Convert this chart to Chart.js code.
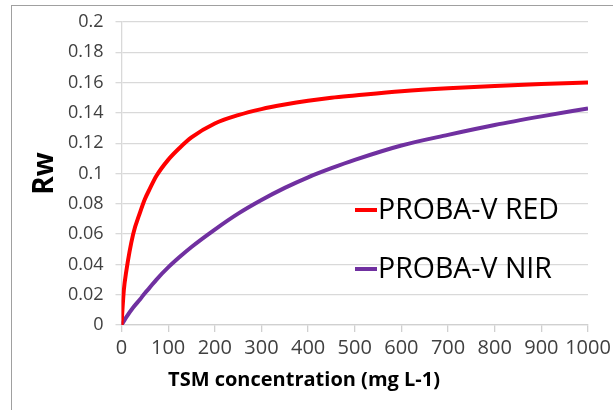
<!DOCTYPE html>
<html>
<head>
<meta charset="utf-8">
<script src="https://cdn.jsdelivr.net/npm/chart.js@4.4.1/dist/chart.umd.min.js"></script>
<style>
  html, body { margin: 0; padding: 0; background: #fff; }
  #wrap { position: relative; width: 613px; height: 410px; overflow: hidden; }
  #frame { position: absolute; left: 11px; top: 5px; width: 700px; height: 500px;
           border-left: 1px solid #a0a0a0; border-top: 1px solid #a0a0a0; }
  canvas { position: absolute; left: 0; top: 0; }
</style>
</head>
<body>
<div id="wrap">
  <div id="frame"></div>
  <canvas id="c" width="613" height="410"></canvas>
</div>
<script>
const tsm = [0, 2, 5, 10, 25, 40, 50, 60, 75, 100, 125, 150, 200, 250, 300, 350, 400, 450, 500, 600, 700, 800, 900, 1000];
const redValues = [0, 0.010, 0.023, 0.035, 0.060, 0.0745, 0.083, 0.0895, 0.0985, 0.109, 0.117, 0.1238, 0.133, 0.1385, 0.1425, 0.1455, 0.148, 0.150, 0.1515, 0.1543, 0.1563, 0.1578, 0.159, 0.160];
const nirValues = [0, 0.001, 0.0025, 0.005, 0.0115, 0.017, 0.021, 0.0245, 0.030, 0.038, 0.045, 0.0515, 0.063, 0.0735, 0.0825, 0.0905, 0.0975, 0.1035, 0.109, 0.1185, 0.1255, 0.132, 0.1377, 0.143];
const xTickValues = [0, 100, 200, 300, 400, 500, 600, 700, 800, 900, 1000];
const seriesNames = ['PROBA-V RED', 'PROBA-V NIR'];
const seriesColors = ['#ff0000', '#7030a0'];
const xTitle = 'TSM concentration (mg L-1)';
const yTitle = 'Rw';

const toPoints = (vals) => tsm.map((x, i) => ({ x: x, y: vals[i] }));

const overlay = {
  id: 'overlay',
  afterDraw(chart) {
    const ctx = chart.ctx;
    ctx.save();
    ctx.font = 'bold 20px "Open Sans"';
    ctx.fillStyle = '#000';
    ctx.textAlign = 'center';
    ctx.textBaseline = 'middle';
    ctx.fillText(xTitle, 304, 380);
    const rows = [210, 269];
    ctx.font = '28.5px "Open Sans"';
    ctx.textAlign = 'left';
    rows.forEach((y, i) => {
      ctx.strokeStyle = seriesColors[i];
      ctx.lineWidth = 4;
      ctx.beginPath();
      ctx.moveTo(355, y);
      ctx.lineTo(377, y);
      ctx.stroke();
      ctx.fillStyle = '#000';
      ctx.fillText(seriesNames[i], 378, y + 1);
    });
    ctx.restore();
  }
};

new Chart(document.getElementById('c'), {
  type: 'line',
  data: {
    datasets: [
      { label: seriesNames[0], data: toPoints(redValues), borderColor: seriesColors[0], borderWidth: 4,
        pointRadius: 0, cubicInterpolationMode: 'monotone', fill: false },
      { label: seriesNames[1], data: toPoints(nirValues), borderColor: seriesColors[1], borderWidth: 4,
        pointRadius: 0, cubicInterpolationMode: 'monotone', fill: false }
    ]
  },
  options: {
    responsive: false,
    animation: false,
    layout: { padding: { left: 0, top: 22, right: 25, bottom: 0 } },
    plugins: { legend: { display: false }, tooltip: { enabled: false }, title: { display: false } },
    scales: {
      x: {
        type: 'linear', min: 0, max: 1000,
        afterBuildTicks(s) { s.ticks = xTickValues.map(v => ({ value: v })); },
        ticks: { autoSkip: false, color: '#404040', font: { family: 'Open Sans', size: 20 }, padding: 4, maxRotation: 0,
                 callback: (v) => String(v) },
        grid: { drawOnChartArea: false, drawTicks: true, tickLength: 7, color: '#d0d0d0', lineWidth: 1.3 },
        border: { display: true, color: '#d0d0d0', width: 1.3 },
        afterFit(s) { s.height = 85; s.paddingLeft = 0; s.paddingRight = 0; }
      },
      y: {
        min: 0, max: 0.2,
        ticks: { stepSize: 0.02, color: '#404040', font: { family: 'Open Sans', size: 18 }, padding: 12,
                 callback: (v) => String(Math.round(v * 100) / 100) },
        grid: { color: '#d9d9d9', lineWidth: 1.3, tickLength: 6 },
        border: { display: true, color: '#d9d9d9', width: 1.3 },
        title: { display: true, text: yTitle, color: '#000', font: { family: 'Open Sans', size: 28, weight: 'bold' },
                 padding: { top: 28, bottom: 0 } },
        afterFit(s) { s.width = 121.5; s.paddingTop = 0; s.paddingBottom = 0; }
      }
    }
  },
  plugins: [overlay]
});
</script>
</body>
</html>
